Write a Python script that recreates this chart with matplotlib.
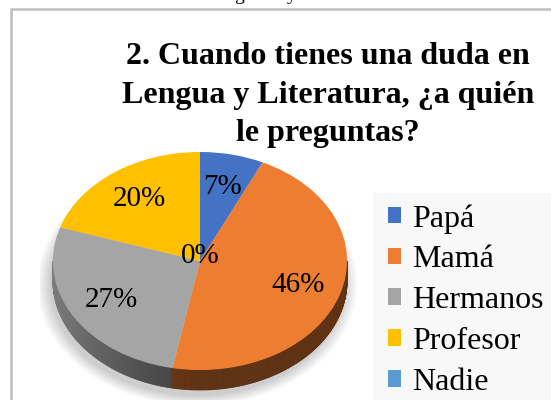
import numpy as np
import matplotlib.pyplot as plt
import matplotlib.colors as mcolors
from matplotlib.patches import Polygon, Rectangle, Ellipse

plt.rcParams['font.family'] = ['Liberation Serif', 'DejaVu Serif']

categories = ['Papá', 'Mamá', 'Hermanos', 'Profesor', 'Nadie']
percent = [7, 46, 27, 20, 0]
colors = ['#4472C4', '#ED7D31', '#A5A5A5', '#FFC000', '#5B9BD5']
title = '2. Cuando tienes una duda en\nLengua y Literatura, ¿a quién\nle preguntas?'

W, H = 551, 400
fig = plt.figure(figsize=(W / 100, H / 100), dpi=100)


def fx(px):
    return px / W


def fy(py):
    return 1 - py / H


# bits of the line of text above the chart (cut off in the source too)
fig.text(fx(239), fy(0.5), 'g', ha='center', va='baseline', fontsize=14)
fig.text(fx(292), fy(0.5), 'y', ha='center', va='baseline', fontsize=14)

# chart frame
fig.patches.append(Rectangle((fx(11), -0.02), 1, fy(9) + 0.02, transform=fig.transFigure,
                             fill=False, ec='#BFBFBF', lw=1.8))

# pie axes: unit circle squashed to an ellipse (rx 147 px, ry 109 px)
ax = fig.add_axes([fx(40), 0, 320 / W, 260 / H])
depth = 0.183

# soft shadow
for k in np.linspace(0, 0.09, 10):
    ax.add_patch(Ellipse((-0.02, -depth - 0.03), 2 * (1 + k), 2 * (1 + k) + 0.05,
                         fc='#000000', ec='none', alpha=0.018, zorder=0))

# side of the 3d pie (front half only)
cum = np.concatenate([[0], np.cumsum(percent)]) / sum(percent)
ts = np.linspace(180, 360, 361)
for t0, t1 in zip(ts[:-1], ts[1:]):
    tm = (t0 + t1) / 2
    f = ((90 - tm) % 360) / 360
    i = np.searchsorted(cum, f, side='right') - 1
    shade = 0.40 + 0.35 * max(0, -np.cos(np.radians(tm))) ** 1.5
    c = np.array(mcolors.to_rgb(colors[i])) * shade
    a0, a1 = np.radians([t0, t1])
    pts = [(np.cos(a0), np.sin(a0)), (np.cos(a1), np.sin(a1)),
           (np.cos(a1), np.sin(a1) - depth), (np.cos(a0), np.sin(a0) - depth)]
    ax.add_patch(Polygon(pts, closed=True, fc=c, ec=c, lw=0.6, zorder=1))

wedges, texts, autotexts = ax.pie(percent, colors=colors, startangle=90, counterclock=False,
                                  autopct='%.0f%%', pctdistance=0.7, radius=1,
                                  wedgeprops=dict(linewidth=0, zorder=2),
                                  textprops=dict(fontsize=21, color='black'))
autotexts[4].set_position((0.0, 0.05))
for t in autotexts:
    t.set_zorder(5)

ax.set_aspect('auto')
ax.set_xlim(-1.088, 1.088)
ax.set_ylim(-1.275, 1.110)
ax.axis('off')

# legend
fig.patches.append(Rectangle((fx(373), -0.02), 1, fy(193) + 0.02, transform=fig.transFigure,
                             fc='#F8F8F8', ec='none'))
fig.legend(wedges, categories, loc='upper left', bbox_to_anchor=(fx(388), fy(204)),
           frameon=False, fontsize=23, handlelength=0.42, handleheight=0.42,
           handletextpad=0.33, labelspacing=0.37, borderpad=0, borderaxespad=0)

fig.text(fx(328), fy(95), title, ha='center', va='center', fontsize=23,
         fontweight='bold', linespacing=1.45)

fig.savefig('out.png', dpi=100)
